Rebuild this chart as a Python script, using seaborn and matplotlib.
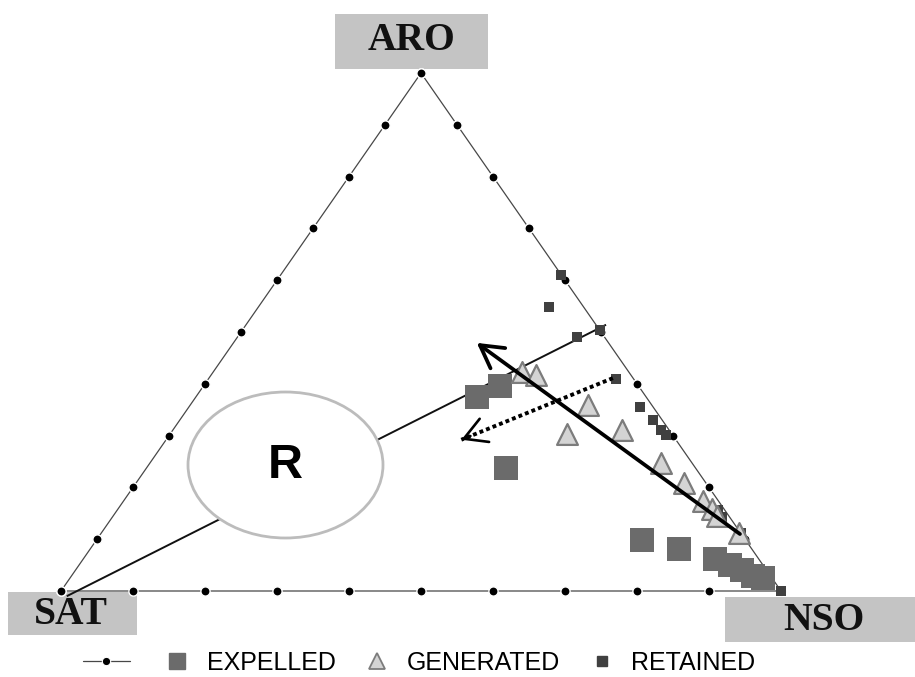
import numpy as np
import pandas as pd
import matplotlib
matplotlib.use("Agg")
import matplotlib.pyplot as plt
from matplotlib.patches import Ellipse, Rectangle
from matplotlib.lines import Line2D
import seaborn as sns

# ---- compositions in percent (SAT, ARO, NSO) ----
expelled_sat = [23.5, 19.2, 26.4, 14.4, 10.1, 6.1, 4.6, 3.4, 2.4, 1.25]
expelled_aro = [37.5, 39.6, 23.7, 9.8, 8.1, 6.2, 5.0, 4.0, 2.9, 2.5]
expelled_nso = [39.0, 41.2, 49.9, 75.8, 81.8, 87.7, 90.4, 92.6, 94.7, 96.25]

generated_sat = [14.8, 13.2, 8.9, 14.6, 6.5, 4.3, 3.1, 2.1, 1.7, 1.6, 0.2]
generated_aro = [42.3, 41.7, 35.9, 30.3, 31.1, 24.7, 20.8, 17.4, 15.8, 14.5, 11.2]
generated_nso = [42.9, 45.1, 55.2, 55.1, 62.4, 71.0, 76.1, 80.5, 82.5, 83.9, 88.6]

retained_sat = [0.0, 4.8, 3.8, 0.0, 2.5, 1.8, 1.3, 1.1, 0.9, 1.0, 1.05, 0.0, 0.0]
retained_aro = [61.0, 54.8, 49.0, 50.4, 40.9, 35.5, 33.0, 31.1, 30.1, 15.6, 14.3, 11.2, 0.0]
retained_nso = [39.0, 40.4, 47.2, 49.6, 56.6, 62.7, 65.7, 67.8, 69.0, 83.4, 84.65, 88.8, 100.0]

# reference line SAT -> ARO/NSO side, and the two trend arrows (start, tip)
refline_sat = [99.7, -1.4]
refline_aro = [-1.0, 51.4]
refline_nso = [1.3, 50.0]

trend_sat = [0.2, 18.3]
trend_aro = [11.0, 47.9]
trend_nso = [88.8, 33.8]

shift_sat = [2.8, 29.8]
shift_aro = [41.1, 29.2]
shift_nso = [56.1, 41.0]

apex_labels = ["SAT", "ARO", "NSO"]
legend_labels = ["", "EXPELLED", "GENERATED", "RETAINED"]
grid_steps = np.arange(0, 101, 10)


def to_xy(sat, aro, nso):
    sat, aro, nso = (np.asarray(v, dtype=float) for v in (sat, aro, nso))
    total = sat + aro + nso
    a = aro / total * 100
    n = nso / total * 100
    return n + a / 2.0, a


def frame(sat, aro, nso, name):
    x, y = to_xy(sat, aro, nso)
    return pd.DataFrame({"x": x, "y": y, "group": name})


sns.set_theme(style="white")
plt.rcParams["font.family"] = ["Liberation Sans", "DejaVu Sans"]

W, H = 915, 677
fig = plt.figure(figsize=(W / 100, H / 100), dpi=100)
ax = fig.add_axes([0, 0, 1, 1])
ax.set_xlim(-61 / 7.2, (W - 61) / 7.2)
ax.set_ylim(-(H - 591) / 5.18, 591 / 5.18)
ax.set_axis_off()

EXP_C = "#6b6b6b"
RET_C = "#404040"
GEN_FACE = "#d4d4d4"
GEN_EDGE = "#7c7c7c"
BOX_C = "#c4c4c4"
EDGE_C = "#474747"

# ---- triangle frame with 10 % graduation dots ----
corner_sat = [100, 0, 0, 100]
corner_aro = [0, 100, 0, 0]
corner_nso = [0, 0, 100, 0]
ex, ey = to_xy(corner_sat, corner_aro, corner_nso)
edge_df = pd.DataFrame({"x": ex, "y": ey, "order": range(4)})
sns.lineplot(data=edge_df, x="x", y="y", sort=False, estimator=None,
             color=EDGE_C, lw=0.9, ax=ax, zorder=1)

dot_sat, dot_aro, dot_nso = [], [], []
for t in grid_steps:
    dot_sat += [100 - t, 0, t]
    dot_aro += [t, 100 - t, 0]
    dot_nso += [0, t, 100 - t]
dots = frame(dot_sat, dot_aro, dot_nso, "grid")
sns.scatterplot(data=dots, x="x", y="y", s=44, color="black",
                edgecolor="white", linewidth=1.0, ax=ax, zorder=2, legend=False)

# ---- reference line, partly hidden by the R field ----
rx, ry = to_xy(refline_sat, refline_aro, refline_nso)
ax.plot(rx, ry, color="#111111", lw=1.4, zorder=2, solid_capstyle="butt")

ell_cx, ell_cy = (285.5 - 61) / 7.2, (591 - 465) / 5.18
ax.add_patch(Ellipse((ell_cx, ell_cy), 195 / 7.2, 146 / 5.18, facecolor="white",
                     edgecolor="#bcbcbc", lw=2.0, zorder=3))
ax.text(ell_cx, ell_cy, "R", fontsize=35, fontweight="bold", ha="center",
        va="center", color="black", zorder=4)

# ---- samples ----
exp_df = frame(expelled_sat, expelled_aro, expelled_nso, "EXPELLED")
gen_df = frame(generated_sat, generated_aro, generated_nso, "GENERATED")
ret_df = frame(retained_sat, retained_aro, retained_nso, "RETAINED")

sns.scatterplot(data=exp_df, x="x", y="y", marker="s", s=290, color=EXP_C,
                edgecolor=EXP_C, linewidth=0, ax=ax, zorder=5, legend=False)
sns.scatterplot(data=ret_df, x="x", y="y", marker="s", s=62, color=RET_C,
                edgecolor=RET_C, linewidth=0, ax=ax, zorder=6, legend=False)
sns.scatterplot(data=gen_df, x="x", y="y", marker="^", s=225, color=GEN_FACE,
                edgecolor=GEN_EDGE, linewidth=1.6, ax=ax, zorder=7, legend=False)

# ---- trend arrows ----
tx, ty = to_xy(trend_sat, trend_aro, trend_nso)
ax.annotate("", xy=(tx[1], ty[1]), xytext=(tx[0], ty[0]), zorder=9,
            arrowprops=dict(arrowstyle="->,head_length=0.8,head_width=0.45",
                            lw=2.7, color="black", shrinkA=0, shrinkB=0,
                            mutation_scale=20))

sx, sy = to_xy(shift_sat, shift_aro, shift_nso)
ax.plot(sx, sy, color="black", lw=2.8, ls=(0, (1.0, 0.8)), zorder=9,
        dash_capstyle="butt")
ax.annotate("", xy=(sx[1], sy[1]),
            xytext=(sx[1] + (sx[0] - sx[1]) * 0.06, sy[1] + (sy[0] - sy[1]) * 0.06),
            zorder=9,
            arrowprops=dict(arrowstyle="->,head_length=0.8,head_width=0.45",
                            lw=1.9, color="black", shrinkA=0, shrinkB=0,
                            mutation_scale=20))

# ---- apex labels on grey plates (pixel boxes) ----
def plate(x0, y0, x1, y1, text, tx_, ty_):
    ax.add_patch(Rectangle((x0 / W, 1 - y1 / H), (x1 - x0) / W, (y1 - y0) / H,
                           transform=ax.transAxes, facecolor=BOX_C,
                           edgecolor="none", zorder=0))
    ax.text(tx_ / W, 1 - ty_ / H, text, transform=ax.transAxes,
            family=["Liberation Serif", "DejaVu Serif"], fontweight="bold",
            fontsize=28.5, ha="center", va="center", color="#111111", zorder=1)

plate(8, 592, 137, 635, apex_labels[0], 71, 615)
plate(335, 14, 488, 69, apex_labels[1], 411, 41)
plate(725, 597, 915, 642, apex_labels[2], 824, 621)

# ---- legend ----
handles = [
    Line2D([], [], color=EDGE_C, lw=0.9, marker="o", ms=6, mfc="black",
           mec="white", mew=0.8),
    Line2D([], [], ls="", marker="s", ms=11, mfc=EXP_C, mec=EXP_C),
    Line2D([], [], ls="", marker="^", ms=11, mfc=GEN_FACE, mec=GEN_EDGE, mew=1.3),
    Line2D([], [], ls="", marker="s", ms=7, mfc=RET_C, mec=RET_C),
]
fs = 18
em = fs * 100 / 72
ax.legend(handles, legend_labels, ncol=4, frameon=False, fontsize=fs,
          loc="center", bbox_to_anchor=(419 / W, 1 - 663 / H),
          handlelength=47 / em, handletextpad=6 / em, columnspacing=18 / em,
          borderpad=0, borderaxespad=0, labelcolor="black")

fig.savefig("out.png", dpi=100)
